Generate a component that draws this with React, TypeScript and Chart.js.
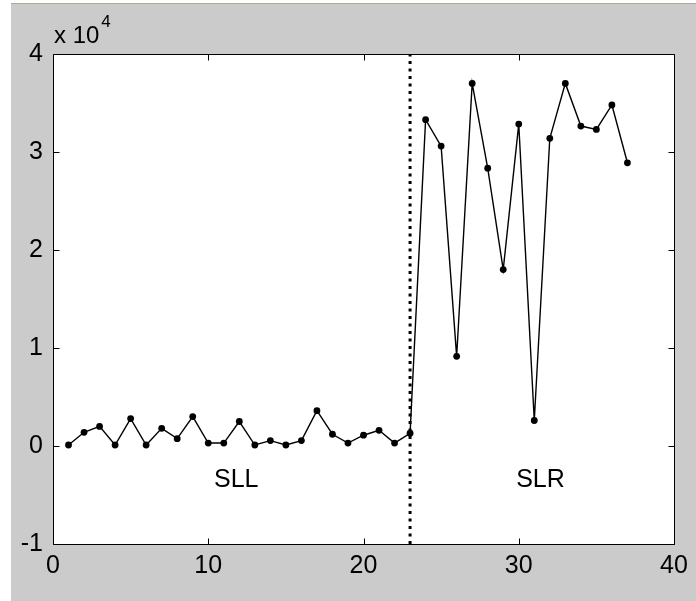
import React, { useEffect, useRef } from "react";
import { Chart, registerables } from "chart.js";

Chart.register(...registerables);

// Sample index along the scan
const sampleNumbers = [
  1, 2, 3, 4, 5, 6, 7, 8, 9, 10, 11, 12, 13, 14, 15, 16, 17, 18, 19,
  20, 21, 22, 23, 24, 25, 26, 27, 28, 29, 30, 31, 32, 33, 34, 35, 36, 37,
];

// Measured amplitude, in units of 10^4
const amplitude = [
  0.01, 0.14, 0.2, 0.01, 0.28, 0.01, 0.18, 0.075, 0.3, 0.03, 0.03, 0.25,
  0.01, 0.055, 0.01, 0.055, 0.36, 0.12, 0.03, 0.11, 0.16, 0.03, 0.13,
  3.33, 3.06, 0.915, 3.7, 2.835, 1.8, 3.285, 0.26, 3.14, 3.7, 3.265, 3.23,
  3.48, 2.89,
];

// Sample where the SLL region ends and SLR begins
const boundarySample = 23;

const xTicks = [0, 10, 20, 30, 40];
const yTicks = [-1, 0, 1, 2, 3, 4];

const regionNames = ["SLL", "SLR"];
const regionCentres = [11.8, 31.4];
const regionLabelLevel = -0.35;

const exponentBase = "x 10";
const exponentPower = "4";

const FONT = '"Liberation Sans", Arial, sans-serif';
const TICK_LEN = 6;

const framePlugin = {
  id: "matlabFrame",
  beforeDraw(chart: any) {
    const { ctx, width, height, chartArea: a } = chart;
    ctx.save();
    ctx.fillStyle = "#ffffff";
    ctx.fillRect(0, 0, width, height);
    ctx.fillStyle = "#aca899";
    ctx.fillRect(11, 3, width - 11, 1);
    ctx.fillStyle = "#cbcbcb";
    ctx.fillRect(11, 4, width - 11, height - 4);
    ctx.fillStyle = "#ffffff";
    ctx.fillRect(a.left, a.top, a.right - a.left, a.bottom - a.top);
    ctx.restore();
  },
  afterDraw(chart: any) {
    const { ctx, chartArea: a, scales } = chart;
    const xs = scales.x;
    const ys = scales.y;
    const L = Math.round(a.left) + 0.5;
    const R = Math.round(a.right) + 0.5;
    const T = Math.round(a.top) + 0.5;
    const B = Math.round(a.bottom) + 0.5;
    ctx.save();
    ctx.strokeStyle = "#000000";
    ctx.lineWidth = 1;
    ctx.beginPath();
    ctx.moveTo(L, T);
    ctx.lineTo(R, T);
    ctx.lineTo(R, B);
    ctx.lineTo(L, B);
    ctx.closePath();
    // inward tick marks on all four sides
    xTicks.forEach((v) => {
      const px = Math.round(xs.getPixelForValue(v)) + 0.5;
      ctx.moveTo(px, B);
      ctx.lineTo(px, B - TICK_LEN);
      ctx.moveTo(px, T);
      ctx.lineTo(px, T + TICK_LEN);
    });
    yTicks.forEach((v) => {
      const py = Math.round(ys.getPixelForValue(v)) + 0.5;
      ctx.moveTo(L, py);
      ctx.lineTo(L + TICK_LEN, py);
      ctx.moveTo(R, py);
      ctx.lineTo(R - TICK_LEN, py);
    });
    ctx.stroke();

    // exponent label above the y axis
    ctx.fillStyle = "#000000";
    ctx.textAlign = "left";
    ctx.textBaseline = "alphabetic";
    ctx.font = `24px ${FONT}`;
    ctx.fillText(exponentBase, a.left + 1, 43);
    const w = ctx.measureText(exponentBase).width;
    ctx.font = `17px ${FONT}`;
    ctx.fillText(exponentPower, a.left + 1 + w + 2, 27);

    // region names
    ctx.font = `25px ${FONT}`;
    ctx.textAlign = "center";
    ctx.textBaseline = "middle";
    regionNames.forEach((name, i) => {
      ctx.fillText(
        name,
        xs.getPixelForValue(regionCentres[i]),
        ys.getPixelForValue(regionLabelLevel)
      );
    });
    ctx.restore();
  },
};

export default function App() {
  const canvasRef = useRef<HTMLCanvasElement>(null);

  useEffect(() => {
    const canvas = canvasRef.current;
    if (!canvas) return;
    const chart = new Chart(canvas, {
      type: "line",
      data: {
        datasets: [
          {
            label: "amplitude",
            data: sampleNumbers.map((x, i) => ({ x, y: amplitude[i] })),
            borderColor: "#000000",
            backgroundColor: "#000000",
            borderWidth: 1.4,
            pointRadius: 3.4,
            pointBorderWidth: 0,
            pointBackgroundColor: "#000000",
            tension: 0,
          },
          {
            label: "boundary",
            data: [
              { x: boundarySample, y: yTicks[0] },
              { x: boundarySample, y: yTicks[yTicks.length - 1] },
            ],
            borderColor: "#000000",
            borderWidth: 3,
            borderDash: [3, 4.5],
            borderCapStyle: "butt",
            pointRadius: 0,
          },
        ],
      },
      options: {
        responsive: false,
        animation: false,
        devicePixelRatio: 1,
        layout: { padding: { left: 0, top: 54, right: 22, bottom: 0 } },
        plugins: {
          legend: { display: false },
          tooltip: { enabled: false },
        },
        scales: {
          x: {
            type: "linear",
            min: 0,
            max: 40,
            afterBuildTicks: (s: any) => {
              s.ticks = xTicks.map((value) => ({ value }));
            },
            afterFit: (s: any) => {
              s.height = 57;
            },
            grid: { display: false, drawTicks: false },
            border: { display: false },
            ticks: {
              color: "#000000",
              padding: 7,
              autoSkip: false,
              maxRotation: 0,
              font: { family: FONT, size: 25 },
            },
          },
          y: {
            type: "linear",
            min: -1,
            max: 4,
            afterBuildTicks: (s: any) => {
              s.ticks = yTicks.map((value) => ({ value }));
            },
            afterFit: (s: any) => {
              s.width = 53;
            },
            grid: { display: false, drawTicks: false },
            border: { display: false },
            ticks: {
              color: "#000000",
              padding: 10,
              autoSkip: false,
              font: { family: FONT, size: 25 },
            },
          },
        },
      },
      plugins: [framePlugin],
    } as any);
    return () => chart.destroy();
  }, []);

  return (
    <div style={{ position: "fixed", left: 0, top: 0, width: 696, height: 601 }}>
      <canvas
        ref={canvasRef}
        width={696}
        height={601}
        style={{ display: "block", width: 696, height: 601 }}
      />
    </div>
  );
}
